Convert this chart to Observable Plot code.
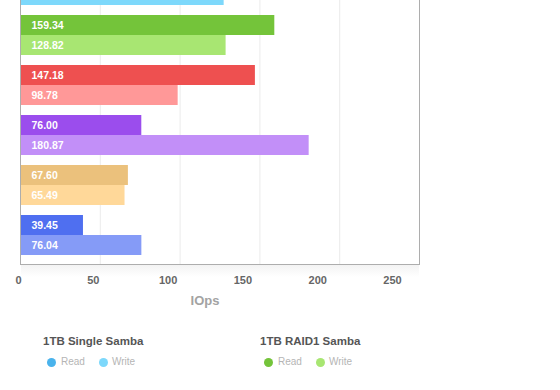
<!DOCTYPE html>
<html>
<head>
<meta charset="utf-8">
<script src="https://cdn.jsdelivr.net/npm/d3@7"></script>
<script src="https://cdn.jsdelivr.net/npm/@observablehq/plot@0.6"></script>
<style>
  html, body { margin: 0; padding: 0; background: #fff; }
  body { position: relative; width: 560px; height: 390px; overflow: hidden;
         font-family: "Liberation Sans", Arial, sans-serif; }
  #main { position: absolute; left: 0; top: -54px; }
  #ticks { position: absolute; left: 0; top: 270px; }
  #shadow { position: absolute; left: 21px; top: 265px; width: 398px; height: 12px;
            background: linear-gradient(#f3f3f3, rgba(255,255,255,0)); }
  #xlabel { position: absolute; left: 0; top: 293px; width: 410px; text-align: center;
            font-size: 13px; line-height: 16px; font-weight: bold; color: #a3a3a3; }
  .lg { position: absolute; }
  .lg-title { position: absolute; white-space: nowrap; font-size: 11.5px; line-height: 14px; font-weight: bold; color: #555; }
  .lg-dot { position: absolute; width: 9px; height: 9px; border-radius: 50%; }
  .lg-text { position: absolute; white-space: nowrap; font-size: 10px; line-height: 12px; color: #b5b5b5; }
</style>
</head>
<body>
<div id="shadow"></div>
<div id="main"></div>
<div id="ticks"></div>
<div id="xlabel">IOps</div>
<div id="legend"></div>
<script>
// ---- data ----
const groups = ["1TB Single Samba", "1TB RAID1 Samba", "Series 3", "Series 4", "Series 5", "Series 6"];
const readValues  = [150.00, 159.34, 147.18, 76.00, 67.60, 39.45];
const writeValues = [127.60, 128.82, 98.78, 180.87, 65.49, 76.04];
const readColors  = ["#4ab3ec", "#74c43a", "#ee5050", "#9b4ded", "#ebc17c", "#4f6ff0"];
const writeColors = ["#7dd8fb", "#a8e672", "#ff9898", "#c28ff8", "#ffd899", "#859bf7"];
const ticks = [0, 50, 100, 150, 200, 250];
const seriesLabels = ["Read", "Write"];
const legendCount = 2;

const FONT = '"Liberation Sans", Arial, sans-serif';
const rows = groups.map((g, i) => ({group: g, read: readValues[i], write: writeValues[i], i}));
// the first group sits above the visible crop; its labels are not shown
const labelRows = rows.slice(1);

const labelStyle = {fill: "white", fontWeight: "bold", fontSize: 10.5, textAnchor: "start", frameAnchor: "left", dx: 11};

const main = Plot.plot({
  width: 440, height: 348,
  marginLeft: 20, marginRight: 21, marginTop: 10, marginBottom: 30,
  style: {fontFamily: FONT, background: "transparent"},
  x: {domain: [ticks[0], ticks[ticks.length - 1]], axis: null},
  y: {domain: groups, axis: null, paddingInner: 0.2, paddingOuter: 0.18},
  marks: [
    Plot.ruleX(ticks.filter(t => t > ticks[0] && t < ticks[ticks.length - 1]), {stroke: "#ebebeb", strokeWidth: 1}),
    Plot.barX(rows, {x: "read", y: "group", fill: d => readColors[d.i], insetBottom: 20}),
    Plot.barX(rows, {x: "write", y: "group", fill: d => writeColors[d.i], insetTop: 20}),
    Plot.text(labelRows, {y: "group", text: d => d.read.toFixed(2), dy: -10, ...labelStyle}),
    Plot.text(labelRows, {y: "group", text: d => d.write.toFixed(2), dy: 10, ...labelStyle}),
    Plot.frame({stroke: "#adadad"})
  ]
});
document.getElementById("main").appendChild(main);

const tickPlot = Plot.plot({
  width: 412, height: 20,
  marginLeft: 18, marginRight: 20, marginTop: 0, marginBottom: 0,
  style: {fontFamily: FONT, background: "transparent"},
  x: {domain: [ticks[0], ticks[ticks.length - 1]], axis: null},
  marks: [
    Plot.text(ticks, {x: d => d, text: d => String(d), frameAnchor: "middle",
      fill: "#666", fontWeight: "bold", fontSize: 11})
  ]
});
document.getElementById("ticks").appendChild(tickPlot);

// legend
const legend = document.getElementById("legend");
groups.slice(0, legendCount).forEach((g, i) => {
  const left = 43 + i * 217;
  const box = document.createElement("div");
  box.className = "lg";
  box.style.left = left + "px";
  box.style.top = "334px";
  const t = document.createElement("div");
  t.className = "lg-title"; t.textContent = g; t.style.left = "0px"; t.style.top = "0px";
  box.appendChild(t);
  [readColors[i], writeColors[i]].forEach((c, k) => {
    const dot = document.createElement("div");
    dot.className = "lg-dot"; dot.style.background = c;
    dot.style.left = (3.5 + k * 52) + "px"; dot.style.top = "23.5px";
    box.appendChild(dot);
    const lt = document.createElement("div");
    lt.className = "lg-text"; lt.textContent = seriesLabels[k];
    lt.style.left = (18 + k * 51) + "px"; lt.style.top = "22px";
    box.appendChild(lt);
  });
  legend.appendChild(box);
});
</script>
</body>
</html>
